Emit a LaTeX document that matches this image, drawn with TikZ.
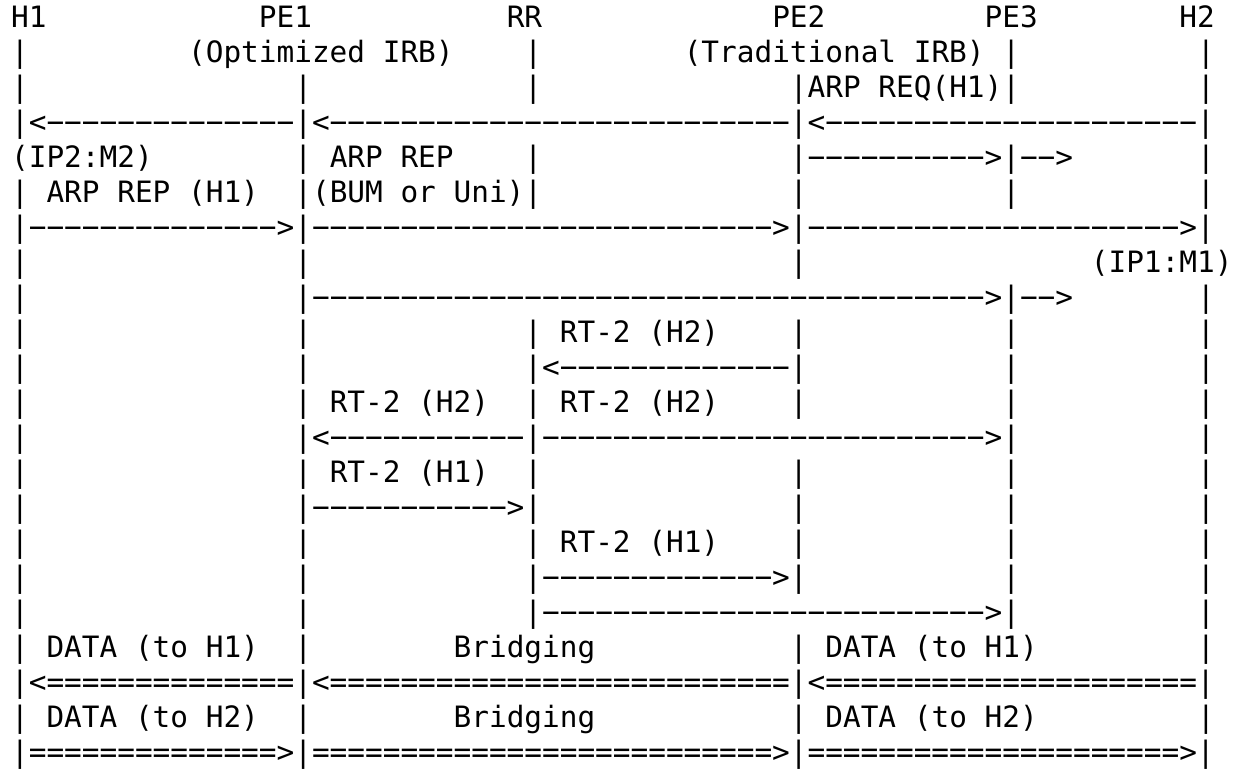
\documentclass[tikz,border=0pt]{standalone}
\usepackage{fontspec}
\setmonofont{DejaVu Sans Mono}
\ExplSyntaxOn
\cs_new:Npn \myrep #1#2 { \prg_replicate:nn {#1} {#2} }
\ExplSyntaxOff
\newcommand\dsh[1]{\myrep{#1}{−}}
\newcommand\eqs[1]{\myrep{#1}{=}}
\tikzset{
  seg/.style={font=\ttfamily\fontsize{29.4}{35}\selectfont, inner sep=0pt, outer sep=0pt, anchor=base west, text=black},
}
\begin{document}
\begin{tikzpicture}[x=1pt,y=1pt]
\fill[white] (0,0) rectangle (1246,768);
\useasboundingbox (0,0) rectangle (1246,768);
\foreach \r/\c/\t in {
 1/0/{H1}, 1/14/{PE1}, 1/28/{RR}, 1/43/{PE2}, 1/55/{PE3}, 1/66/{H2},
 2/0/{|}, 2/10/{(Optimized IRB)}, 2/29/{|}, 2/38/{(Traditional IRB)}, 2/56/{|}, 2/67/{|},
 3/0/{|}, 3/16/{|}, 3/29/{|}, 3/44/{|ARP REQ(H1)|}, 3/67/{|},
 4/0/{|<\dsh{14}|<\dsh{26}|<\dsh{21}|},
 5/0/{(IP2:M2)}, 5/16/{|}, 5/18/{ARP REP}, 5/29/{|}, 5/44/{|\dsh{10}>|\dsh{2}>}, 5/67/{|},
 6/0/{|}, 6/2/{ARP REP (H1)}, 6/16/{|(BUM or Uni)|}, 6/44/{|}, 6/56/{|}, 6/67/{|},
 7/0/{|\dsh{14}>|\dsh{26}>|\dsh{21}>|},
 8/0/{|}, 8/16/{|}, 8/44/{|}, 8/61/{(IP1:M1)},
 9/0/{|}, 9/16/{|\dsh{38}>|\dsh{2}>}, 9/67/{|},
 10/0/{|}, 10/16/{|}, 10/29/{|}, 10/31/{RT-2 (H2)}, 10/44/{|}, 10/56/{|}, 10/67/{|},
 11/0/{|}, 11/16/{|}, 11/29/{|<\dsh{13}|}, 11/56/{|}, 11/67/{|},
 12/0/{|}, 12/16/{|}, 12/18/{RT-2 (H2)}, 12/29/{|}, 12/31/{RT-2 (H2)}, 12/44/{|}, 12/56/{|}, 12/67/{|},
 13/0/{|}, 13/16/{|<\dsh{11}|\dsh{25}>|}, 13/67/{|},
 14/0/{|}, 14/16/{|}, 14/18/{RT-2 (H1)}, 14/29/{|}, 14/44/{|}, 14/56/{|}, 14/67/{|},
 15/0/{|}, 15/16/{|\dsh{11}>|}, 15/44/{|}, 15/56/{|}, 15/67/{|},
 16/0/{|}, 16/16/{|}, 16/29/{|}, 16/31/{RT-2 (H1)}, 16/44/{|}, 16/56/{|}, 16/67/{|},
 17/0/{|}, 17/16/{|}, 17/29/{|\dsh{13}>|}, 17/56/{|}, 17/67/{|},
 18/0/{|}, 18/16/{|}, 18/29/{|\dsh{25}>|}, 18/67/{|},
 19/0/{|}, 19/2/{DATA (to H1)}, 19/16/{|}, 19/25/{Bridging}, 19/44/{|}, 19/46/{DATA (to H1)}, 19/67/{|},
 20/0/{|<\eqs{14}|<\eqs{26}|<\eqs{21}|},
 21/0/{|}, 21/2/{DATA (to H2)}, 21/16/{|}, 21/25/{Bridging}, 21/44/{|}, 21/46/{DATA (to H2)}, 21/67/{|},
 22/0/{|\eqs{14}>|\eqs{26}>|\eqs{21}>|}
}{
  \node[seg] (r\r-\c) at ({11.15+\c*17.7},{740.5-35*(\r-1)}) {\t};
}
\end{tikzpicture}
\end{document}
